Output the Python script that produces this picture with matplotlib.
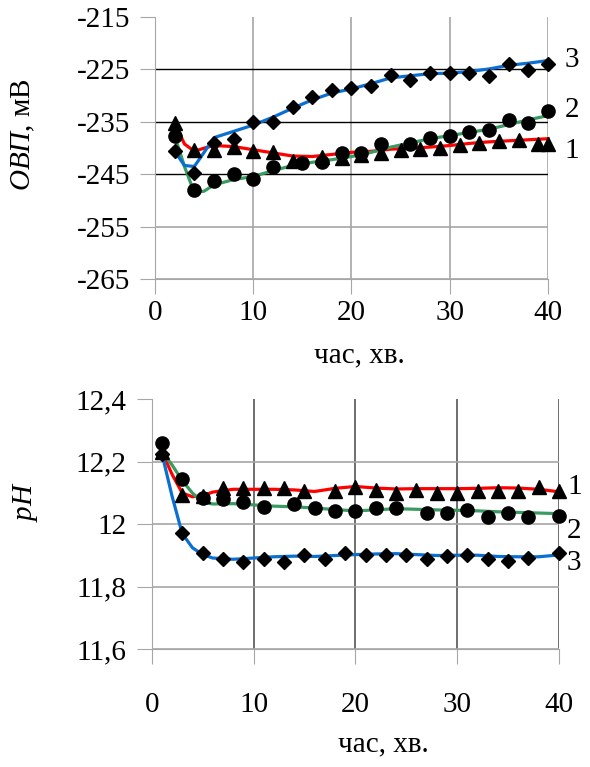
import matplotlib.pyplot as plt

plt.rcParams['font.family'] = ['Liberation Serif', 'DejaVu Serif']
plt.rcParams['mathtext.fontset'] = 'custom'
plt.rcParams['mathtext.rm'] = 'Liberation Serif'
plt.rcParams['mathtext.it'] = 'Liberation Serif:italic'
plt.rcParams['axes.unicode_minus'] = False

# --- ОВП (top) ---
orp_line_x = [2, 3, 4, 5, 6, 8, 10, 12, 14, 16, 18, 20, 22, 24, 26, 28, 30, 32, 34, 36, 38, 40]
orp_line1 = [-235.2, -239.2, -240.6, -240.0, -239.5, -239.7, -240.3, -240.9, -241.5, -241.6, -241.2,
             -240.8, -240.6, -240.2, -240.0, -239.8, -239.5, -239.1, -238.8, -238.6, -238.4, -238.2]
orp_line2 = [-237.6, -243.5, -248.5, -248.2, -247.0, -246.0, -245.4, -244.3, -243.3, -242.7, -242.2,
             -241.6, -240.8, -239.8, -239.0, -238.2, -237.6, -237.0, -236.4, -235.5, -234.6, -233.8]
orp_line3 = [-240.6, -243.3, -243.5, -240.8, -238.0, -236.8, -235.6, -234.1, -232.4, -230.8, -229.5,
             -228.7, -227.7, -226.6, -226.2, -225.8, -225.7, -225.4, -224.9, -224.2, -223.8, -223.3]

orp_tri_x = [2, 4, 6, 8, 10, 12, 14, 17, 19, 21, 23, 25, 27, 29, 31, 33, 35, 37, 39, 40]
orp_tri = [-235.2, -240.3, -240.3, -239.8, -240.5, -240.8, -242.5, -241.6, -241.9, -241.3,
           -241.0, -240.3, -240.2, -240.0, -239.4, -239.0, -238.7, -238.4, -239.2, -239.2]
orp_circ_x = [2, 4, 6, 8, 10, 12, 15, 17, 19, 21, 23, 26, 28, 30, 32, 34, 36, 38, 40]
orp_circ = [-237.6, -248.0, -246.2, -245.0, -245.9, -243.6, -242.9, -242.6, -241.0, -241.0,
            -239.2, -239.2, -238.1, -237.6, -237.0, -236.5, -234.6, -235.2, -232.9]
orp_diam_x = [2, 4, 6, 8, 10, 12, 14, 16, 18, 20, 22, 24, 26, 28, 30, 32, 34, 36, 38, 40]
orp_diam = [-240.6, -244.8, -239.0, -238.2, -235.1, -235.0, -232.1, -230.3, -229.0, -228.5,
            -228.1, -226.1, -227.1, -225.6, -225.6, -225.6, -226.2, -223.9, -225.1, -223.9]

# --- pH (bottom) ---
ph_line_x = [1, 2, 3, 4, 5, 6, 8, 10, 12, 14, 16, 18, 20, 22, 24, 26, 28, 30, 32, 34, 36, 38, 40]
ph_line1 = [12.232, 12.16, 12.10, 12.088, 12.092, 12.103, 12.112, 12.112, 12.112, 12.11, 12.105, 12.115,
            12.121, 12.116, 12.113, 12.114, 12.114, 12.114, 12.115, 12.117, 12.116, 12.112, 12.104]
ph_line2 = [12.232, 12.19, 12.14, 12.10, 12.07, 12.065, 12.066, 12.062, 12.058, 12.056, 12.052, 12.047,
            12.043, 12.046, 12.05, 12.048, 12.046, 12.045, 12.043, 12.04, 12.038, 12.036, 12.034]
ph_line3 = [12.227, 12.09, 11.97, 11.925, 11.903, 11.892, 11.888, 11.892, 11.896, 11.898, 11.897, 11.9,
            11.903, 11.905, 11.906, 11.903, 11.9, 11.901, 11.901, 11.897, 11.896, 11.896, 11.902]

ph_tri_x = [1, 3, 5, 7, 9, 11, 13, 15, 18, 20, 22, 24, 26, 28, 30, 32, 34, 36, 38, 40]
ph_tri = [12.232, 12.094, 12.09, 12.115, 12.115, 12.115, 12.115, 12.108, 12.108, 12.12,
          12.11, 12.099, 12.11, 12.099, 12.099, 12.108, 12.108, 12.108, 12.118, 12.108]
ph_circ_x = [1, 3, 5, 7, 9, 11, 14, 16, 18, 20, 22, 24, 27, 29, 31, 33, 35, 37, 40]
ph_circ = [12.259, 12.144, 12.083, 12.082, 12.072, 12.056, 12.065, 12.053, 12.044, 12.044,
           12.053, 12.053, 12.035, 12.035, 12.046, 12.024, 12.037, 12.024, 12.027]
ph_diam_x = [1, 3, 5, 7, 9, 11, 13, 15, 17, 19, 21, 23, 25, 27, 29, 31, 33, 35, 37, 40]
ph_diam = [12.225, 11.971, 11.907, 11.888, 11.880, 11.888, 11.880, 11.902, 11.888, 11.909,
           11.902, 11.902, 11.902, 11.888, 11.899, 11.902, 11.888, 11.884, 11.891, 11.909]

RED = '#ff0000'
GREEN = '#3a9a5f'
BLUE = '#0a6fd0'
GRID = '#a6a6a6'
FS = 21

fig = plt.figure(figsize=(5.9, 7.67), dpi=100)
ax1 = fig.add_axes([0.2627, 0.6359, 0.6661, 0.3419])
ax2 = fig.add_axes([0.2571, 0.1535, 0.6904, 0.3259])


def draw(ax, lx, l1, l2, l3, tx, ty, cx, cy, dx, dy):
    ax.plot(lx, l1, color=RED, lw=2.3, zorder=3, clip_on=False)
    ax.plot(lx, l2, color=GREEN, lw=2.3, zorder=3, clip_on=False)
    ax.plot(lx, l3, color=BLUE, lw=2.3, zorder=3, clip_on=False)
    ax.plot(dx, dy, 'D', color='black', ms=7.5, ls='none', zorder=4, clip_on=False)
    ax.plot(cx, cy, 'o', color='black', ms=9.5, ls='none', zorder=5, clip_on=False)
    ax.plot(tx, ty, '^', color='black', ms=9.5, ls='none', zorder=6, clip_on=False)
    ax.set_xlim(0, 40)
    ax.set_xticks([0, 10, 20, 30, 40])
    for s in ['top', 'right']:
        ax.spines[s].set_visible(False)
    for s in ['left', 'bottom']:
        ax.spines[s].set_color(GRID)
    ax.tick_params(labelsize=FS, colors=GRID, labelcolor='black', length=11)
    ax.grid(True, color=GRID, lw=1.2)
    ax.set_axisbelow(True)


# top chart
draw(ax1, orp_line_x, orp_line1, orp_line2, orp_line3,
     orp_tri_x, orp_tri, orp_circ_x, orp_circ, orp_diam_x, orp_diam)
ax1.set_ylim(-265, -215)
ax1.set_yticks([-265, -255, -245, -235, -225, -215])
ax1.tick_params(axis='x', pad=4)
ax1.tick_params(axis='y', pad=7)
ygl = ax1.yaxis.get_gridlines()
ygl[-1].set_visible(False)
for g in ygl[2:5]:
    g.set_color('black')
    g.set_linewidth(1.0)
ax1.set_ylabel(r'$\mathit{ОВП}$, мВ', fontsize=FS)
ax1.yaxis.set_label_coords(-0.3, 0.55)
ax1.set_xlabel('час, хв.', fontsize=FS)
ax1.xaxis.set_label_coords(0.52, -0.24)
ax1.text(42.4, -223.1, '3', fontsize=FS, va='center', ha='center')
ax1.text(42.4, -232.7, '2', fontsize=FS, va='center', ha='center')
ax1.text(42.4, -240.5, '1', fontsize=FS, va='center', ha='center')

# bottom chart
draw(ax2, ph_line_x, ph_line1, ph_line2, ph_line3,
     ph_tri_x, ph_tri, ph_circ_x, ph_circ, ph_diam_x, ph_diam)
ax2.set_ylim(11.6, 12.4)
ax2.set_yticks([11.6, 11.8, 12.0, 12.2, 12.4])
ax2.set_yticklabels(['11,6', '11,8', '12', '12,2', '12,4'])
ax2.tick_params(axis='x', pad=20)
ax2.tick_params(axis='y', pad=7)
ygl2 = ax2.yaxis.get_gridlines()
ygl2[-1].set_visible(False)
for g in ax2.xaxis.get_gridlines()[1:]:
    g.set_color('#555555')
ax2.set_ylabel(r'$\mathit{pH}$', fontsize=FS)
ax2.yaxis.set_label_coords(-0.275, 0.59)
ax2.set_xlabel('час, хв.', fontsize=FS)
ax2.xaxis.set_label_coords(0.57, -0.33)
ax2.text(41.5, 12.118, '1', fontsize=FS, va='center', ha='center')
ax2.text(41.5, 11.98, '2', fontsize=FS, va='center', ha='center')
ax2.text(41.5, 11.875, '3', fontsize=FS, va='center', ha='center')

fig.savefig('out.png', dpi=100)
